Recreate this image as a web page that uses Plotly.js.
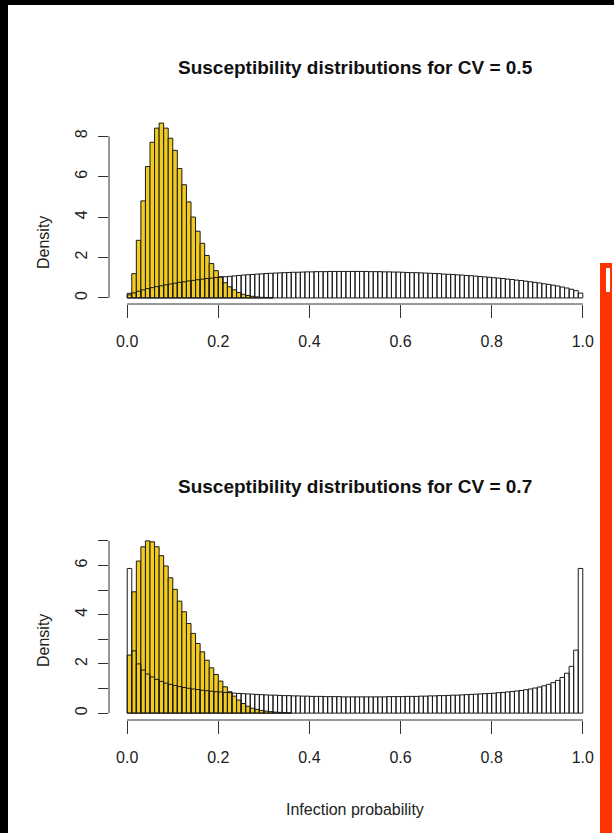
<!DOCTYPE html>
<html>
<head>
<meta charset="utf-8">
<script src="https://cdn.plot.ly/plotly-3.0.1.min.js"></script>
<style>
  html, body { margin: 0; padding: 0; background: #fff; }
  #wrap { position: relative; width: 614px; height: 833px; overflow: hidden; }
  #chart { position: absolute; left: 0; top: 0; width: 614px; height: 833px; }
  .blk { position: absolute; background: #000; z-index: 5; }
  .red { position: absolute; background: #ff3300; z-index: 5; }
  .wht { position: absolute; background: #fff; z-index: 6; }
</style>
</head>
<body>
<div id="wrap">
  <div id="chart"></div>
  <div class="blk" style="left:0;top:0;width:614px;height:5px;"></div>
  <div class="blk" style="left:0;top:0;width:8px;height:833px;"></div>
  <div class="red" style="left:600px;top:263px;width:12px;height:570px;"></div>
  <div class="wht" style="left:606px;top:268px;width:4px;height:24px;"></div>
</div>
<script>
// ---- Data (densities per 0.01-wide bin, starting at 0.0) ----
const binWidth = 0.01;

// CV = 0.5 : observed (yellow) histogram
const cv05Observed = [0.23, 1.20, 2.85, 4.80, 6.50, 7.70, 8.40, 8.65, 8.40, 7.90,
  7.30, 6.40, 5.60, 4.75, 4.00, 3.30, 2.70, 2.10, 1.70, 1.35,
  1.05, 0.75, 0.55, 0.40, 0.27, 0.18, 0.12, 0.08, 0.05, 0.03, 0.02, 0.01];

// CV = 0.5 : susceptibility (white) histogram
const cv05Suscept = [0.15, 0.25, 0.33, 0.40, 0.46, 0.51, 0.56, 0.60, 0.65, 0.69,
  0.73, 0.77, 0.80, 0.84, 0.87, 0.90, 0.93, 0.96, 0.98, 1.01,
  1.03, 1.05, 1.07, 1.09, 1.11, 1.13, 1.15, 1.16, 1.18, 1.19,
  1.21, 1.22, 1.23, 1.24, 1.25, 1.26, 1.27, 1.27, 1.28, 1.29,
  1.29, 1.30, 1.30, 1.30, 1.31, 1.31, 1.31, 1.31, 1.31, 1.31,
  1.31, 1.31, 1.31, 1.30, 1.30, 1.30, 1.29, 1.29, 1.28, 1.28,
  1.27, 1.26, 1.25, 1.25, 1.24, 1.23, 1.22, 1.21, 1.20, 1.18,
  1.17, 1.16, 1.14, 1.13, 1.11, 1.10, 1.08, 1.06, 1.04, 1.02,
  1.00, 0.98, 0.96, 0.93, 0.91, 0.88, 0.86, 0.83, 0.80, 0.77,
  0.74, 0.70, 0.67, 0.63, 0.59, 0.54, 0.49, 0.43, 0.36, 0.24];

// CV = 0.7 : observed (yellow) histogram
const cv07Observed = [2.36, 4.93, 6.18, 6.76, 7.00, 6.96, 6.76, 6.40, 5.98, 5.50,
  5.03, 4.55, 4.12, 3.64, 3.24, 2.83, 2.49, 2.15, 1.84, 1.57,
  1.30, 1.07, 0.87, 0.69, 0.53, 0.39, 0.28, 0.20, 0.15, 0.11,
  0.08, 0.06, 0.04, 0.03, 0.02, 0.01];

// CV = 0.7 : susceptibility (white) histogram
const cv07Suscept = [5.88, 2.53, 2.00, 1.75, 1.59, 1.47, 1.37, 1.29, 1.22, 1.17,
  1.12, 1.08, 1.04, 1.01, 0.98, 0.96, 0.93, 0.91, 0.89, 0.87,
  0.86, 0.84, 0.83, 0.81, 0.80, 0.79, 0.78, 0.77, 0.76, 0.75,
  0.74, 0.73, 0.73, 0.72, 0.71, 0.71, 0.70, 0.70, 0.69, 0.69,
  0.68, 0.68, 0.68, 0.67, 0.67, 0.67, 0.67, 0.66, 0.66, 0.66,
  0.66, 0.66, 0.66, 0.66, 0.66, 0.66, 0.66, 0.67, 0.67, 0.67,
  0.67, 0.68, 0.68, 0.68, 0.69, 0.69, 0.70, 0.70, 0.71, 0.71,
  0.72, 0.73, 0.73, 0.74, 0.75, 0.76, 0.77, 0.78, 0.79, 0.80,
  0.81, 0.83, 0.84, 0.86, 0.88, 0.90, 0.92, 0.95, 0.98, 1.02,
  1.06, 1.11, 1.17, 1.24, 1.33, 1.45, 1.62, 1.90, 2.56, 5.88];

const xTickVals = [0, 0.2, 0.4, 0.6, 0.8, 1.0];
const xTickText = ["0.0", "0.2", "0.4", "0.6", "0.8", "1.0"];
const yTickVals1 = [0, 2, 4, 6, 8];
const yTickText1 = ["0", "2", "4", "6", "8"];
const yTickVals2 = [0, 1, 2, 3, 4, 5, 6, 7];
const yTickText2 = ["0", "", "2", "", "4", "", "6", ""];

const titleTop = "Susceptibility distributions for CV = 0.5";
const titleBottom = "Susceptibility distributions for CV = 0.7";
const yLabel = "Density";
const xLabel = "Infection probability";

// ---- Layout helpers ----
const W = 614, H = 833, ML = 109, MR = 13;
const PW = W - ML - MR;
const xp = px => (px - ML) / PW;
const yp = py => 1 - py / H;

const FONT = "'Liberation Sans', Arial, Helvetica, sans-serif";
const GOLD = "#f1cb1f";
const EDGE = "#1a1a1a";

const centers = arr => arr.map((_, i) => (i + 0.5) * binWidth);

function barTrace(vals, xa, ya, fill) {
  return {
    type: "bar", x: centers(vals), y: vals, width: binWidth,
    xaxis: xa, yaxis: ya,
    marker: { color: fill, line: { color: EDGE, width: 1 } },
    hoverinfo: "skip", showlegend: false
  };
}

const data = [
  barTrace(cv05Observed, "x", "y", GOLD),
  barTrace(cv05Suscept, "x", "y", "rgba(0,0,0,0)"),
  barTrace(cv07Observed, "x2", "y2", GOLD),
  barTrace(cv07Suscept, "x2", "y2", "rgba(0,0,0,0)")
];

const tickFont = { family: FONT, size: 16, color: "#222" };

function xAxis(anchor) {
  return {
    domain: [0, 1], anchor: anchor, range: [-0.04, 1.04],
    showline: false, showgrid: false, zeroline: false,
    ticks: "outside", ticklen: 13, tickwidth: 1, tickcolor: "#333",
    tickvals: xTickVals, ticktext: xTickText, tickfont: tickFont,
    ticklabelstandoff: 10, fixedrange: true
  };
}
function yAxis(anchor, dom, rng, tv, tt) {
  return {
    domain: dom, anchor: anchor, range: rng,
    showline: false, showgrid: false, zeroline: false,
    ticks: "outside", ticklen: 10, tickwidth: 1, tickcolor: "#333",
    tickvals: tv, ticktext: tt, tickangle: -90, tickfont: tickFont,
    ticklabelstandoff: 5, fixedrange: true
  };
}

const axisLine = { color: "#333", width: 1 };
const shapes = [
  { type: "line", xref: "x", yref: "y domain", x0: 0, x1: 1, y0: 0, y1: 0, line: axisLine },
  { type: "line", xref: "x domain", yref: "y", x0: 0, x1: 0, y0: 0, y1: 8, line: axisLine },
  { type: "line", xref: "x2", yref: "y2 domain", x0: 0, x1: 1, y0: 0, y1: 0, line: axisLine },
  { type: "line", xref: "x2 domain", yref: "y2", x0: 0, x1: 0, y0: 0, y1: 7, line: axisLine }
];

const annotations = [
  { text: "<b>" + titleTop + "</b>", xref: "paper", yref: "paper", x: 0.5, y: yp(68),
    xanchor: "center", yanchor: "middle", showarrow: false,
    font: { family: FONT, size: 19, color: "#111" } },
  { text: "<b>" + titleBottom + "</b>", xref: "paper", yref: "paper", x: 0.5, y: yp(486),
    xanchor: "center", yanchor: "middle", showarrow: false,
    font: { family: FONT, size: 19, color: "#111" } },
  { text: yLabel, xref: "paper", yref: "paper", x: xp(43), y: yp(243), textangle: -90,
    xanchor: "center", yanchor: "middle", showarrow: false,
    font: { family: FONT, size: 16, color: "#222" } },
  { text: yLabel, xref: "paper", yref: "paper", x: xp(43), y: yp(641), textangle: -90,
    xanchor: "center", yanchor: "middle", showarrow: false,
    font: { family: FONT, size: 16, color: "#222" } },
  { text: xLabel, xref: "paper", yref: "paper", x: 0.5, y: yp(809),
    xanchor: "center", yanchor: "middle", showarrow: false,
    font: { family: FONT, size: 16, color: "#222" } }
];

const layout = {
  width: W, height: H,
  margin: { l: ML, r: MR, t: 0, b: 0, pad: 0 },
  paper_bgcolor: "#fff", plot_bgcolor: "#fff",
  barmode: "overlay", bargap: 0,
  showlegend: false,
  xaxis: xAxis("y"),
  yaxis: yAxis("x", [yp(304), yp(116)], [-0.3, 9.0], yTickVals1, yTickText1),
  xaxis2: xAxis("y2"),
  yaxis2: yAxis("x2", [yp(720), yp(534)], [-0.28, 7.28], yTickVals2, yTickText2),
  shapes: shapes,
  annotations: annotations
};

Plotly.newPlot("chart", data, layout, { displayModeBar: false, staticPlot: true });
</script>
</body>
</html>
